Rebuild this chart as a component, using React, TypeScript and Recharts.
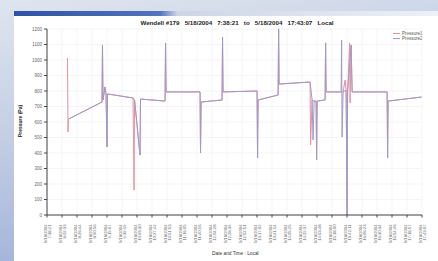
import React from "react";
import { LineChart, Line, XAxis, YAxis, CartesianGrid } from "recharts";

const chartTitle = "Wendell #179   5/18/2004   7:38:21   to   5/18/2004   17:43:07   Local";
const yLabel = "Pressure (Pa)";
const xLabel = "Date and Time : Local";
const seriesNames = ["Pressure1", "Pressure2"];
const tickDate = "5/18/2004";
const tickTimes = [
  "7:38:21", "8:02:33", "8:26:44", "8:50:56", "9:15:07", "9:39:19", "10:03:30",
  "10:27:42", "10:51:53", "11:16:05", "11:40:16", "12:04:28", "12:28:39", "12:52:51",
  "13:17:02", "13:41:14", "14:05:25", "14:29:37", "14:53:48", "15:18:00", "15:42:11",
  "16:06:23", "16:30:34", "16:54:46", "17:18:57", "17:43:07",
];
const yTicks = [0, 100, 200, 300, 400, 500, 600, 700, 800, 900, 1000, 1100, 1200];

// minutes since 7:38:21
const minutes = [
  33.1, 33.9, 34.7, 88.7, 89.5, 90.3, 93.6, 95.2, 96.8, 97.6, 138.7, 140.4, 141.2, 150.0,
  150.8, 190.4, 191.2, 192.0, 246.8, 247.6, 248.5, 282.3, 283.1, 283.9, 338.8, 339.6,
  340.4, 372.7, 373.5, 374.3, 424.3, 425.1, 427.5, 429.1, 430.8, 434.0, 434.8, 435.6,
  448.5, 449.3, 450.1, 474.3, 475.1, 475.9, 477.5, 480.8, 482.4, 484.0, 484.8, 488.0,
  488.8, 490.5, 492.1, 548.5, 549.3, 550.1, 604.0,
];
const pressure1: (number | null)[] = [
  1013, 535, 619, 729, 1097, 742, 826, 781, 439, 781, 755, 161, 742, 387,
  748, 735, 1110, 794, 794, 400, 729, 742, 1148, 794, 800, 368,
  742, 774, 1200, 845, 858, 452, 742, null, 735, 735, 355, 735,
  742, 1110, 794, 794, null, null, 794, 871, 806, 0, 794, 1110,
  723, 1097, 794, 794, 368, 735, 761,
];
const pressure2: (number | null)[] = [
  null, null, 619, 729, 1097, 742, 826, 781, 439, 781, 755, null, 742, 387,
  748, 735, 1110, 794, 794, 400, 729, 742, 1148, 794, 800, 368,
  742, 774, 1200, 845, 858, null, 742, 484, 735, 735, 355, 735,
  742, 1110, 794, 794, 1129, 503, 794, null, 806, 0, 794, null,
  null, 1097, 794, 794, 368, 735, 761,
];

const data = minutes.map((t, i) => ({ t, p1: pressure1[i], p2: pressure2[i] }));
const xMax = 604.77;
const xTicks = tickTimes.map((_, i) => (i * xMax) / (tickTimes.length - 1));

const FONT = "'Liberation Sans', Arial, sans-serif";
const PINK = "#e8909f";
const LAV = "#9d9bc9";
const seriesColors = [PINK, LAV];

const XTick = (props: any) => {
  const { x, y, index } = props;
  return (
    <g transform={`translate(${x},${y + 5})`}>
      <text transform="rotate(-90)" textAnchor="end" fontSize={4.2} fill="#666" fontFamily={FONT}>
        <tspan x={0} y={-0.5}>{tickDate}</tspan>
        <tspan x={0} y={4}>{tickTimes[index]}</tspan>
      </text>
    </g>
  );
};

export default function App() {
  return (
    <div
      style={{
        position: "fixed",
        left: 0,
        top: 0,
        width: 438,
        height: 261,
        overflow: "hidden",
        background: "linear-gradient(170deg, #dfe5ef 0%, #c4cfe4 40%, #94a6d6 100%)",
        fontFamily: FONT,
      }}
    >
      <div style={{ position: "absolute", left: 14, top: 11, width: 430, height: 255, background: "#ffffff" }}>
        <div
          style={{
            height: 5,
            background: "linear-gradient(90deg, #2f52a6 0%, #5373bd 34%, #cdd5e6 38%, #eef1f6 100%)",
          }}
        />
      </div>
      <div
        style={{
          position: "absolute",
          left: 0,
          top: 19,
          width: 438,
          textAlign: "center",
          paddingLeft: 36,
          boxSizing: "border-box",
          fontSize: 6.2,
          fontWeight: "bold",
          color: "#222",
          whiteSpace: "pre",
        }}
      >
        {chartTitle}
      </div>
      <div
        style={{
          position: "absolute",
          left: 20,
          top: 121,
          transform: "translate(-50%, -50%) rotate(-90deg)",
          fontSize: 5,
          fontWeight: "bold",
          color: "#222",
          whiteSpace: "nowrap",
        }}
      >
        {yLabel}
      </div>
      <div
        style={{
          position: "absolute",
          left: 212,
          top: 251,
          fontSize: 4.8,
          color: "#333",
          whiteSpace: "nowrap",
        }}
      >
        {xLabel}
      </div>
      <div
        style={{
          position: "absolute",
          left: 393,
          top: 31,
          fontSize: 4.5,
          color: "#555",
          lineHeight: "5px",
        }}
      >
        {seriesNames.map((n, i) => (
          <div key={n} style={{ display: "flex", alignItems: "center" }}>
            <span style={{ display: "inline-block", width: 7, height: 1, background: seriesColors[i], marginRight: 2 }} />
            {n}
          </div>
        ))}
      </div>
      <div style={{ position: "absolute", left: 0, top: 0 }}>
        <LineChart width={438} height={261} data={data} margin={{ top: 29, right: 16, bottom: 16, left: 17 }}>
          <CartesianGrid stroke="#efefef" strokeWidth={0.6} />
          <XAxis
            dataKey="t"
            type="number"
            domain={[0, xMax]}
            ticks={xTicks}
            interval={0}
            height={30}
            tick={<XTick />}
            tickSize={2.5}
            stroke="#444"
          />
          <YAxis
            type="number"
            domain={[0, 1200]}
            ticks={yTicks}
            interval={0}
            width={30}
            tickSize={3}
            stroke="#444"
            tick={{ fontSize: 4.5, fill: "#666", fontFamily: FONT }}
          />
          <Line
            dataKey="p1"
            name={seriesNames[0]}
            stroke={PINK}
            strokeWidth={1}
            dot={false}
            connectNulls
            isAnimationActive={false}
          />
          <Line
            dataKey="p2"
            name={seriesNames[1]}
            stroke={LAV}
            strokeWidth={1}
            dot={false}
            connectNulls
            isAnimationActive={false}
          />
        </LineChart>
      </div>
    </div>
  );
}
